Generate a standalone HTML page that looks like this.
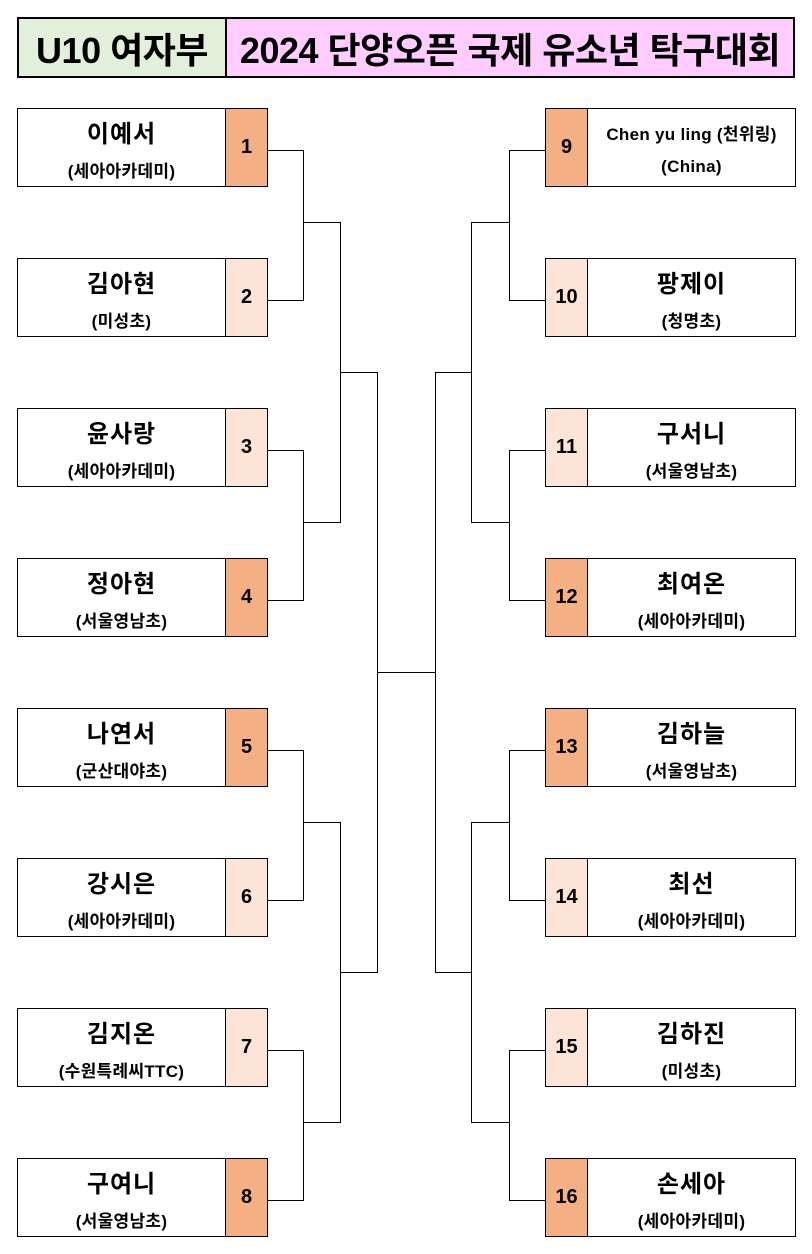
<!DOCTYPE html>
<html><head><meta charset="utf-8"><style>
body{margin:0;width:812px;height:1254px;background:#fff;position:relative;font-family:"Liberation Sans","Noto Sans CJK KR",sans-serif;font-weight:bold;overflow:hidden}
.a{position:absolute;box-sizing:border-box}
.t{border:2px solid #000;top:17px;height:61px;display:flex;align-items:center;justify-content:center;font-size:36px;letter-spacing:-0.5px}
.nm{border:1px solid #000;background:#fff;width:209px;height:79px;text-align:center}
.nm .n{position:absolute;left:0;right:0;top:5px;font-size:24px;letter-spacing:1px}
.nm .s{position:absolute;left:0;right:0;top:48px;font-size:17px;letter-spacing:0.3px}
.nb{border:1px solid #000;width:43px;height:79px;display:flex;align-items:center;justify-content:center;font-size:20px}
.d{background:#f4b084}.l{background:#fce4d6}
</style></head><body>
<div class="a t" style="left:17px;width:210px;background:#e2efda">U10 여자부</div>
<div class="a t" style="left:225px;width:570px;background:#ffccff">2024 단양오픈 국제 유소년 탁구대회</div>

<div class="a nm" style="left:17px;top:108px"><div class="n">이예서</div><div class="s">(세아아카데미)</div></div><div class="a nb d" style="left:225px;top:108px">1</div>
<div class="a nm" style="left:17px;top:258px"><div class="n">김아현</div><div class="s">(미성초)</div></div><div class="a nb l" style="left:225px;top:258px">2</div>
<div class="a nm" style="left:17px;top:408px"><div class="n">윤사랑</div><div class="s">(세아아카데미)</div></div><div class="a nb l" style="left:225px;top:408px">3</div>
<div class="a nm" style="left:17px;top:558px"><div class="n">정아현</div><div class="s">(서울영남초)</div></div><div class="a nb d" style="left:225px;top:558px">4</div>
<div class="a nm" style="left:17px;top:708px"><div class="n">나연서</div><div class="s">(군산대야초)</div></div><div class="a nb d" style="left:225px;top:708px">5</div>
<div class="a nm" style="left:17px;top:858px"><div class="n">강시은</div><div class="s">(세아아카데미)</div></div><div class="a nb l" style="left:225px;top:858px">6</div>
<div class="a nm" style="left:17px;top:1008px"><div class="n">김지온</div><div class="s">(수원특례씨TTC)</div></div><div class="a nb l" style="left:225px;top:1008px">7</div>
<div class="a nm" style="left:17px;top:1158px"><div class="n">구여니</div><div class="s">(서울영남초)</div></div><div class="a nb d" style="left:225px;top:1158px">8</div>

<div class="a nb d" style="left:545px;top:108px">9</div><div class="a nm" style="left:587px;top:108px"><div class="n" style="font-size:17px;top:11px;letter-spacing:0.3px">Chen yu ling (천위링)</div><div class="s">(China)</div></div>
<div class="a nb l" style="left:545px;top:258px">10</div><div class="a nm" style="left:587px;top:258px"><div class="n">팡제이</div><div class="s">(청명초)</div></div>
<div class="a nb l" style="left:545px;top:408px">11</div><div class="a nm" style="left:587px;top:408px"><div class="n">구서니</div><div class="s">(서울영남초)</div></div>
<div class="a nb d" style="left:545px;top:558px">12</div><div class="a nm" style="left:587px;top:558px"><div class="n">최여온</div><div class="s">(세아아카데미)</div></div>
<div class="a nb d" style="left:545px;top:708px">13</div><div class="a nm" style="left:587px;top:708px"><div class="n">김하늘</div><div class="s">(서울영남초)</div></div>
<div class="a nb l" style="left:545px;top:858px">14</div><div class="a nm" style="left:587px;top:858px"><div class="n">최선</div><div class="s">(세아아카데미)</div></div>
<div class="a nb l" style="left:545px;top:1008px">15</div><div class="a nm" style="left:587px;top:1008px"><div class="n">김하진</div><div class="s">(미성초)</div></div>
<div class="a nb d" style="left:545px;top:1158px">16</div><div class="a nm" style="left:587px;top:1158px"><div class="n">손세아</div><div class="s">(세아아카데미)</div></div>

<svg class="a" style="left:0;top:0" width="812" height="1254" viewBox="0 0 812 1254" shape-rendering="crispEdges">
<g stroke="#000" stroke-width="1" fill="none">
<path d="M268 150.5H303.5V300.5H268M268 450.5H303.5V600.5H268M268 750.5H303.5V900.5H268M268 1050.5H303.5V1200.5H268"/>
<path d="M303.5 222.5H340.5V522.5H303.5M303.5 822.5H340.5V1122.5H303.5"/>
<path d="M340.5 372.5H377.5V972.5H340.5M377.5 672.5H435.5"/>
<path d="M545 150.5H509.5V300.5H545M545 450.5H509.5V600.5H545M545 750.5H509.5V900.5H545M545 1050.5H509.5V1200.5H545"/>
<path d="M509.5 222.5H471.5V522.5H509.5M509.5 822.5H471.5V1122.5H509.5"/>
<path d="M471.5 372.5H435.5V972.5H471.5"/>
</g></svg>
</body></html>
